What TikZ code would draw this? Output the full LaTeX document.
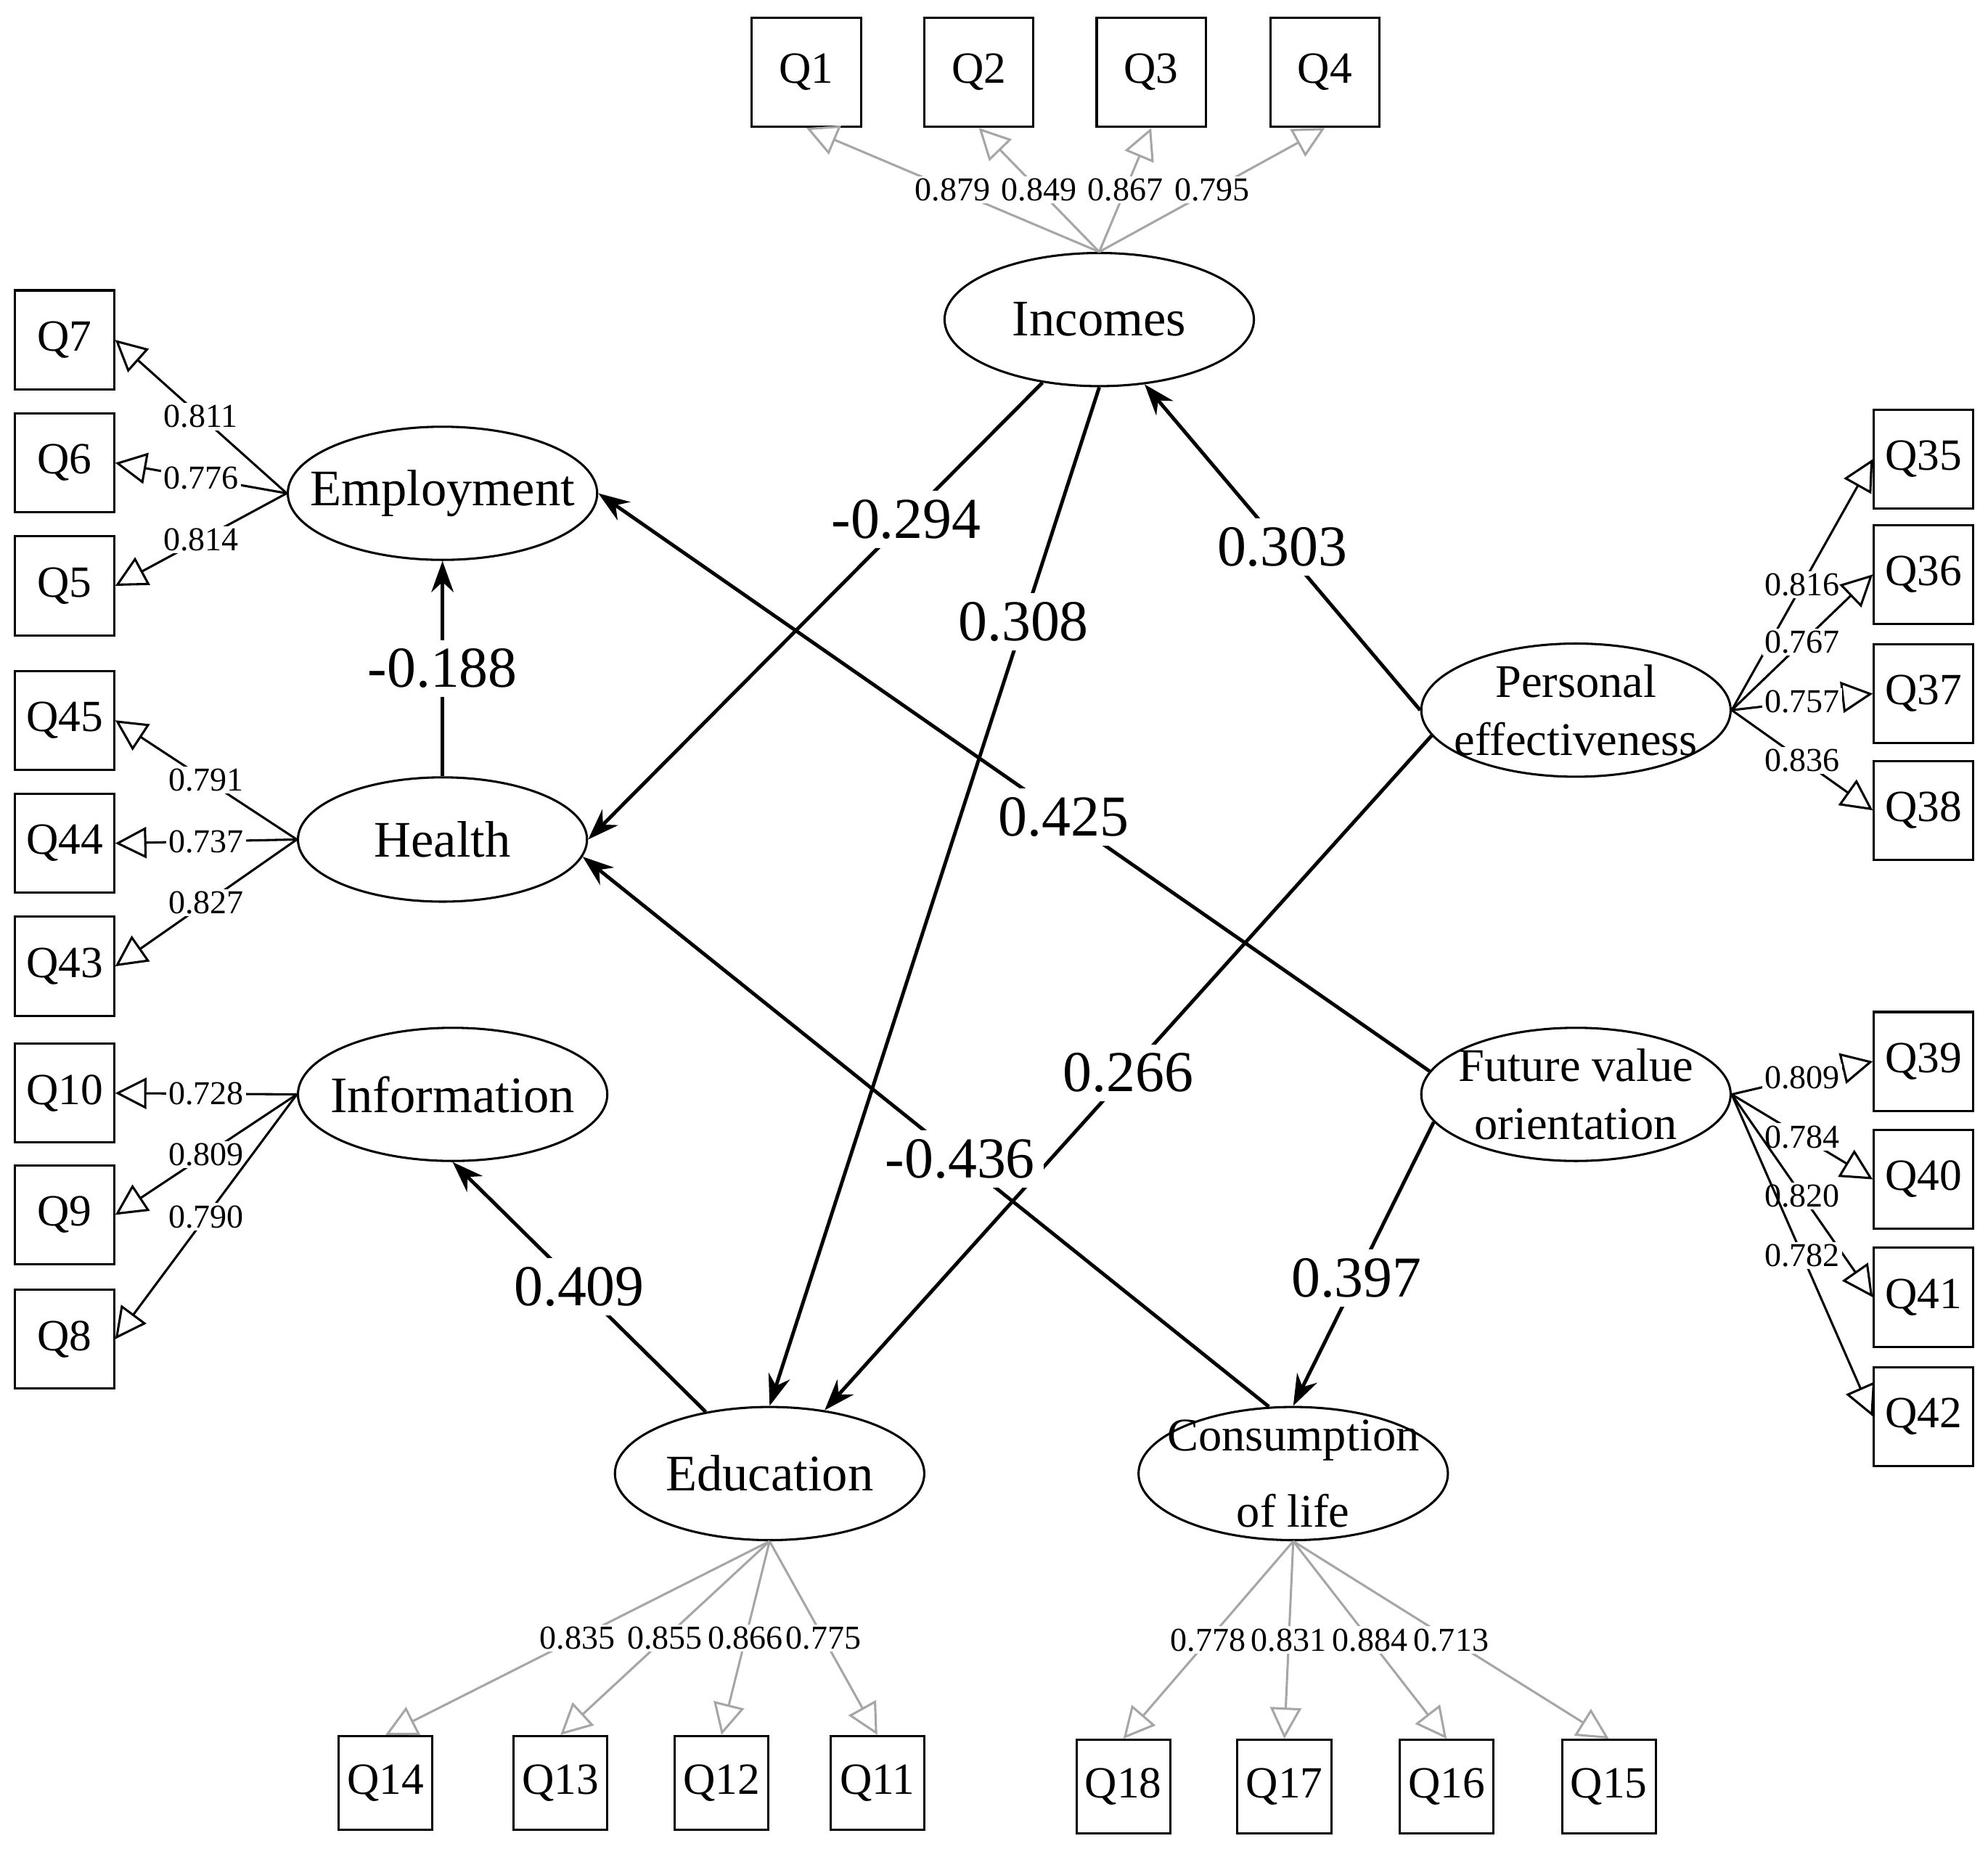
\documentclass[tikz,border=0pt]{standalone}
\usepackage{fontspec}
\setmainfont{Liberation Serif}
\usetikzlibrary{shapes.geometric,arrows.meta}
\tikzstyle{item} = [draw, line width=0.5pt, minimum width=0.8cm, minimum height=0.8cm, inner sep=0pt, font=\fontsize{10}{12}\selectfont]
\tikzstyle{factor} = [draw, ellipse, line width=0.5pt, minimum width=2.44cm, minimum height=1.05cm, inner sep=0pt]
\tikzstyle{title} = [align=center, font=\fontsize{11.5}{13}\selectfont]
\tikzstyle{load} = [-{Triangle[open,length=7pt,width=7pt]}, line width=0.5pt]
\tikzstyle{grey} = [draw=black!35]
\tikzstyle{coef} = [fill=white, inner sep=0.5pt, font=\fontsize{7.5}{9}\selectfont]
\tikzstyle{path} = [-{Stealth[length=7pt,width=5pt]}, line width=0.8pt]
\tikzstyle{beta} = [fill=white, inner sep=2pt, font=\fontsize{13}{15}\selectfont]

\begin{document}
\begin{tikzpicture}
  \useasboundingbox (0,0) rectangle (15.68,-14.58);
  % factors
  \node (inc) at (8.67,-2.52) [factor, label={[title]center:Incomes}] {};
  \node (emp) at (3.49,-3.89) [factor, label={[title]center:Employment}] {};
  \node (hea) at (3.49,-6.62) [factor, minimum width=2.28cm, minimum height=0.98cm, label={[title]center:Health}] {};
  \node (inf) at (3.57,-8.63) [factor, label={[title]center:Information}] {};
  \node (edu) at (6.07,-11.62) [factor, label={[title]center:Education}] {};
  \node (con) at (10.20,-11.62) [factor, label={[title, font=\fontsize{10.5}{17}\selectfont]center:Consumption\\of life}] {};
  \node (per) at (12.43,-5.60) [factor, label={[title, font=\fontsize{10.5}{13}\selectfont]center:Personal\\effectiveness}] {};
  \node (fut) at (12.43,-8.63) [factor, label={[title, font=\fontsize{10.5}{13}\selectfont]center:Future value\\orientation}] {};
  % items
  \node (q1) at (6.36,-0.57) [item, minimum width=0.86cm, minimum height=0.86cm] {Q1};
  \node (q2) at (7.72,-0.57) [item, minimum width=0.86cm, minimum height=0.86cm] {Q2};
  \node (q3) at (9.08,-0.57) [item, minimum width=0.86cm, minimum height=0.86cm] {Q3};
  \node (q4) at (10.45,-0.57) [item, minimum width=0.86cm, minimum height=0.86cm] {Q4};
  \node (q7) at (0.51,-2.68) [item, minimum width=0.78cm, minimum height=0.78cm] {Q7};
  \node (q6) at (0.51,-3.65) [item, minimum width=0.78cm, minimum height=0.78cm] {Q6};
  \node (q5) at (0.51,-4.62) [item, minimum width=0.78cm, minimum height=0.78cm] {Q5};
  \node (q45) at (0.51,-5.68) [item, minimum width=0.78cm, minimum height=0.78cm] {Q45};
  \node (q44) at (0.51,-6.65) [item, minimum width=0.78cm, minimum height=0.78cm] {Q44};
  \node (q43) at (0.51,-7.62) [item, minimum width=0.78cm, minimum height=0.78cm] {Q43};
  \node (q10) at (0.51,-8.62) [item, minimum width=0.78cm, minimum height=0.78cm] {Q10};
  \node (q9) at (0.51,-9.58) [item, minimum width=0.78cm, minimum height=0.78cm] {Q9};
  \node (q8) at (0.51,-10.56) [item, minimum width=0.78cm, minimum height=0.78cm] {Q8};
  \node (q14) at (3.04,-14.06) [item, minimum width=0.74cm, minimum height=0.74cm] {Q14};
  \node (q13) at (4.42,-14.06) [item, minimum width=0.74cm, minimum height=0.74cm] {Q13};
  \node (q12) at (5.69,-14.06) [item, minimum width=0.74cm, minimum height=0.74cm] {Q12};
  \node (q11) at (6.92,-14.06) [item, minimum width=0.74cm, minimum height=0.74cm] {Q11};
  \node (q18) at (8.86,-14.09) [item, minimum width=0.74cm, minimum height=0.74cm] {Q18};
  \node (q17) at (10.13,-14.09) [item, minimum width=0.74cm, minimum height=0.74cm] {Q17};
  \node (q16) at (11.41,-14.09) [item, minimum width=0.74cm, minimum height=0.74cm] {Q16};
  \node (q15) at (12.69,-14.09) [item, minimum width=0.74cm, minimum height=0.74cm] {Q15};
  \node (q35) at (15.17,-3.62) [item, minimum width=0.78cm, minimum height=0.78cm] {Q35};
  \node (q36) at (15.17,-4.53) [item, minimum width=0.78cm, minimum height=0.78cm] {Q36};
  \node (q37) at (15.17,-5.47) [item, minimum width=0.78cm, minimum height=0.78cm] {Q37};
  \node (q38) at (15.17,-6.39) [item, minimum width=0.78cm, minimum height=0.78cm] {Q38};
  \node (q39) at (15.17,-8.37) [item, minimum width=0.78cm, minimum height=0.78cm] {Q39};
  \node (q40) at (15.17,-9.30) [item, minimum width=0.78cm, minimum height=0.78cm] {Q40};
  \node (q41) at (15.17,-10.23) [item, minimum width=0.78cm, minimum height=0.78cm] {Q41};
  \node (q42) at (15.17,-11.17) [item, minimum width=0.78cm, minimum height=0.78cm] {Q42};
  % loadings
  \draw [load, grey] (inc.north) to node [coef] {0.879} (q1.south);
  \draw [load, grey] (inc.north) to node [coef] {0.849} (q2.south);
  \draw [load, grey] (inc.north) to node [coef] {0.867} (q3.south);
  \draw [load, grey] (inc.north) to node [coef] {0.795} (q4.south);
  \draw [load] (emp.west) to node [coef] {0.811} (q7.east);
  \draw [load] (emp.west) to node [coef] {0.776} (q6.east);
  \draw [load] (emp.west) to node [coef] {0.814} (q5.east);
  \draw [load] (hea.west) to node [coef] {0.791} (q45.east);
  \draw [load] (hea.west) to node [coef] {0.737} (q44.east);
  \draw [load] (hea.west) to node [coef] {0.827} (q43.east);
  \draw [load] (inf.west) to node [coef] {0.728} (q10.east);
  \draw [load] (inf.west) to node [coef] {0.809} (q9.east);
  \draw [load] (inf.west) to node [coef] {0.790} (q8.east);
  \draw [load, grey] (edu.south) to node [coef] {0.835} (q14.north);
  \draw [load, grey] (edu.south) to node [coef] {0.855} (q13.north);
  \draw [load, grey] (edu.south) to node [coef] {0.866} (q12.north);
  \draw [load, grey] (edu.south) to node [coef] {0.775} (q11.north);
  \draw [load, grey] (con.south) to node [coef] {0.778} (q18.north);
  \draw [load, grey] (con.south) to node [coef] {0.831} (q17.north);
  \draw [load, grey] (con.south) to node [coef] {0.884} (q16.north);
  \draw [load, grey] (con.south) to node [coef] {0.713} (q15.north);
  \draw [load] (per.east) to node [coef] {0.816} (q35.west);
  \draw [load] (per.east) to node [coef] {0.767} (q36.west);
  \draw [load] (per.east) to node [coef] {0.757} (q37.west);
  \draw [load] (per.east) to node [coef] {0.836} (q38.west);
  \draw [load] (fut.east) to node [coef] {0.809} (q39.west);
  \draw [load] (fut.east) to node [coef] {0.784} (q40.west);
  \draw [load] (fut.east) to node [coef] {0.820} (q41.west);
  \draw [load] (fut.east) to node [coef] {0.782} (q42.west);
  % structural paths
  \draw [path] (inc.228) to node [beta, pos=0.3] {-0.294} (hea.0);
  \draw [path] (inc.270) to node [beta, pos=0.23] {0.308} (edu.90);
  \draw [path] (per.180) to node [beta, pos=0.5] {0.303} (inc.305);
  \draw [path] (per.190) to node [beta, pos=0.5] {0.266} (edu.49);
  \draw [path] (fut.171) to node [beta, pos=0.44] {0.425} (emp.0);
  \draw [path] (fut.191) to node [beta, pos=0.55] {0.397} (con.90);
  \draw [path] (con.110) to node [beta, pos=0.45] {-0.436} (hea.353);
  \draw [path] (hea.90) to node [beta] {-0.188} (emp.270);
  \draw [path] (edu.136) to node [beta, pos=0.5] {0.409} (inf.270);
\end{tikzpicture}
\end{document}
